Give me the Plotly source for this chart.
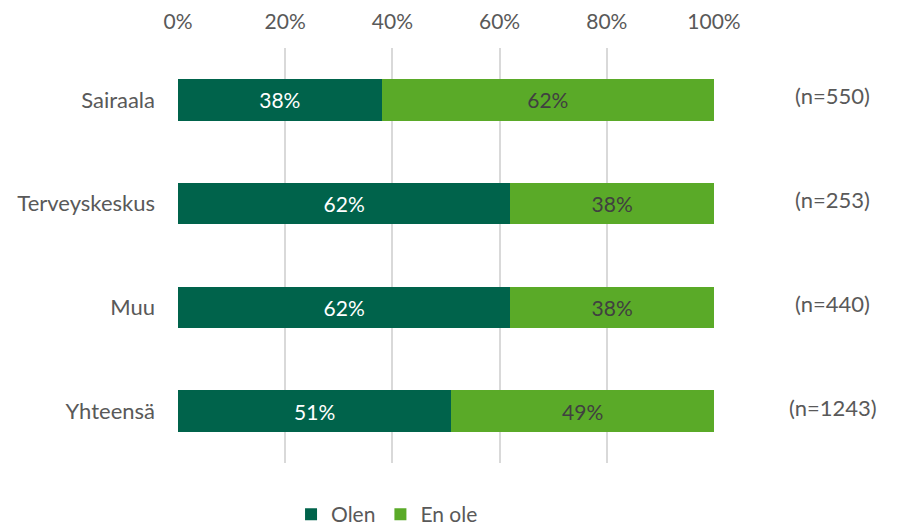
import plotly.graph_objects as go

categories = ["Sairaala", "Terveyskeskus", "Muu", "Yhteensä"]
olen = [38, 62, 62, 51]
en_ole = [62, 38, 38, 49]
n_labels = ["(n=550)", "(n=253)", "(n=440)", "(n=1243)"]
tick_vals = [0, 20, 40, 60, 80, 100]
tick_text = ["0%", "20%", "40%", "60%", "80%", "100%"]

DARK = "#00634B"
LIGHT = "#5AAA28"
GRAY = "#595959"
FONT = "Lato"
FS = 21

fig = go.Figure()
fig.add_trace(go.Bar(
    y=categories, x=olen, name="Olen", orientation="h",
    marker=dict(color=DARK, line=dict(width=0)),
    text=[f"{v}%" for v in olen], textposition="inside", insidetextanchor="middle",
    textfont=dict(color="white", size=FS, family=FONT),
))
fig.add_trace(go.Bar(
    y=categories, x=en_ole, name="En ole", orientation="h",
    marker=dict(color=LIGHT, line=dict(width=0)),
    text=[f"{v}%" for v in en_ole], textposition="inside", insidetextanchor="middle",
    textfont=dict(color="#404040", size=FS, family=FONT),
))

for cat, lab in zip(categories, n_labels):
    fig.add_annotation(x=1.222, xref="paper", y=cat, yref="y", text=lab,
                       showarrow=False, xanchor="center", yshift=4,
                       font=dict(color=GRAY, size=22, family=FONT))

fig.update_layout(
    barmode="stack",
    bargap=0.6,
    width=901, height=525,
    margin=dict(l=170, r=195, t=40, b=70, autoexpand=False),
    plot_bgcolor="white", paper_bgcolor="white",
    font=dict(family=FONT, color=GRAY, size=FS),
    showlegend=True,
    legend=dict(orientation="h", x=0.39, xanchor="center", y=-0.075, yanchor="top",
                font=dict(size=FS, color=GRAY, family=FONT), traceorder="normal",
                itemwidth=30),
    uniformtext=dict(mode=False),
)
fig.update_xaxes(side="top", range=[0, 100], tickvals=tick_vals, ticktext=tick_text,
                 showgrid=True, gridcolor="#D9D9D9", gridwidth=2, zeroline=False,
                 showline=False, ticks="", tickfont=dict(size=FS, color=GRAY),
                 ticklabelstandoff=14, automargin=False, fixedrange=True)
fig.update_yaxes(autorange="reversed", showgrid=False, showline=False, ticks="",
                 ticklabelstandoff=22, automargin=False,
                 tickfont=dict(size=22, color=GRAY))

fig.write_html("out.html")
